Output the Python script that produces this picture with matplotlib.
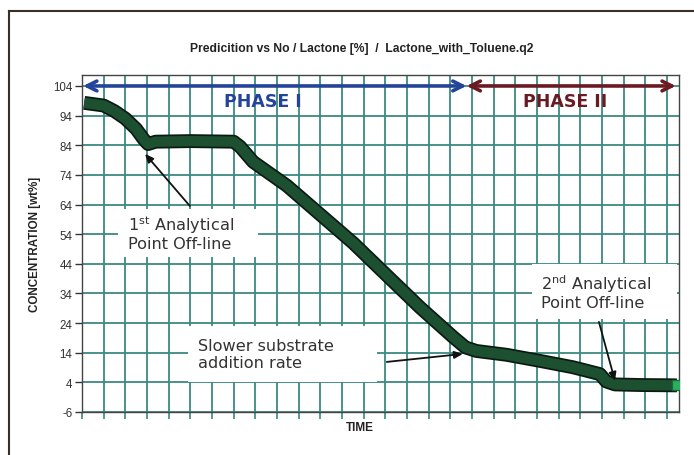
import matplotlib
matplotlib.use("Agg")
import matplotlib.pyplot as plt
import matplotlib.patheffects as pe
from matplotlib.patches import Rectangle
from matplotlib.lines import Line2D

# ---- data ----
time = [0.1, 1.0, 1.5, 2.0, 2.5, 2.85, 3.05, 3.4, 5.0, 7.0, 7.3, 7.9, 9.45,
        12.52, 15.6, 17.13, 17.7, 18.2, 19.6, 21.1, 22.66, 23.9, 24.2, 24.6,
        25.8, 27.3, 27.46]
conc = [98.3, 97.4, 95.5, 93.0, 89.5, 86.0, 84.4, 85.2, 85.4, 85.2, 83.5, 78.4,
        70.4, 51.0, 29.3, 19.3, 15.8, 14.6, 13.3, 11.3, 9.1, 6.8, 4.3, 3.3,
        3.1, 3.0, 3.0]
y_ticks = [-6, 4, 14, 24, 34, 44, 54, 64, 74, 84, 94, 104]
n_xgrid = 28

title = "Predicition vs No / Lactone [%]  /  Lactone_with_Toluene.q2"
ylabel = "CONCENTRATION [wt%]"
xlabel = "TIME"

W, H = 694, 456
fig = plt.figure(figsize=(W / 100, H / 100), dpi=100)
fig.patch.set_facecolor("white")

# outer frame (left and top)
fig.add_artist(Line2D([8.5 / W, 8.5 / W], [0, 1 - 11.5 / H], transform=fig.transFigure,
                      color="#3b2e25", lw=1.5))
fig.add_artist(Line2D([8.5 / W, 1], [1 - 11.5 / H, 1 - 11.5 / H], transform=fig.transFigure,
                      color="#3b2e25", lw=1.5))

left, right, top, bottom = 82, 679.3, 76, 413
ax = fig.add_axes([left / W, 1 - bottom / H, (right - left) / W, (bottom - top) / H])
ax.set_xlim(0, 27.57)
ax.set_ylim(-6, 107.7)

ax.set_xticks(range(n_xgrid))
ax.set_xticklabels([])
ax.set_yticks(y_ticks)
ax.set_yticklabels([str(v) for v in y_ticks], fontsize=8.3, color="#333333",
                   family="Liberation Sans")
ax.grid(True, color="#3a8a80", lw=1.3)
ax.set_axisbelow(True)
ax.tick_params(axis="x", direction="out", length=5, color="#3a8a80", width=1.2)
ax.tick_params(axis="y", direction="out", length=5, color="#333333", width=1.0, pad=2)
for s in ax.spines.values():
    s.set_color("#444444")
    s.set_linewidth(1.0)

# white boxes behind annotations (hide grid)
boxes = [(1.66, 46.3, 8.12 - 1.66, 62.5 - 46.3),
         (4.89, 4.1, 13.61 - 4.89, 23.0 - 4.1),
         (20.77, 25.4, 27.46 - 20.77, 43.9 - 25.4)]
for (bx, by, bw, bh) in boxes:
    ax.add_patch(Rectangle((bx, by), bw, bh, facecolor="white", edgecolor="none", zorder=2))

# curve
ax.plot(time, conc, color="#1c5030", lw=7.5, solid_capstyle="butt",
        solid_joinstyle="round", zorder=4,
        path_effects=[pe.Stroke(linewidth=10, foreground="#0b1a10"), pe.Normal()])
ax.plot(time[-1:], conc[-1:], marker="s", ms=7, color="#2bb060", mec="#1a6a3a",
        lw=0, zorder=5)

# phase arrows
ax.annotate("", xy=(0.05, 104), xytext=(17.75, 104),
            arrowprops=dict(arrowstyle="<->,head_length=0.7,head_width=0.35",
                            color="#24449a", lw=2.6, shrinkA=0, shrinkB=0), zorder=6)
ax.annotate("", xy=(17.75, 104), xytext=(27.41, 104),
            arrowprops=dict(arrowstyle="<->,head_length=0.7,head_width=0.35",
                            color="#6b1a24", lw=2.6, shrinkA=0, shrinkB=0), zorder=6)
ax.text(8.35, 98.9, "PHASE I", ha="center", va="center", fontsize=12.5,
        fontweight="bold", color="#24449a", family="DejaVu Sans", zorder=6)
ax.text(22.29, 98.9, "PHASE II", ha="center", va="center", fontsize=12.5,
        fontweight="bold", color="#6b1a24", family="DejaVu Sans", zorder=6)

# annotations
tc = "#333333"
fs = 11.6
ax.text(2.12, 54.7, "1$^{\\mathrm{st}}$ Analytical\nPoint Off-line", ha="left", va="center",
        fontsize=fs, color=tc, linespacing=1.1, zorder=6)
ax.text(5.35, 13.6, "Slower substrate\naddition rate", ha="left", va="center",
        fontsize=fs, color=tc, linespacing=1.1, zorder=6)
ax.text(21.2, 34.8, "2$^{\\mathrm{nd}}$ Analytical\nPoint Off-line", ha="left", va="center",
        fontsize=fs, color=tc, linespacing=1.1, zorder=6)

arr = dict(arrowstyle="-|>,head_length=0.5,head_width=0.22", color="#111111", lw=1.3,
           shrinkA=0, shrinkB=0)
ax.annotate("", xy=(2.91, 81.1), xytext=(4.98, 63.5), arrowprops=arr, zorder=7)
ax.annotate("", xy=(17.58, 13.6), xytext=(14.07, 10.9), arrowprops=arr, zorder=7)
ax.annotate("", xy=(24.6, 4.5), xytext=(23.86, 24.4), arrowprops=arr, zorder=7)

# titles / labels
fig.text(362 / W, 1 - 49 / H, title, ha="center", va="center", fontsize=8.7,
         fontweight="bold", color="#222222", family="Liberation Sans")
fig.text(35 / W, 1 - 244.5 / H, ylabel, ha="center", va="center", rotation=90,
         fontsize=8.4, fontweight="bold", color="#222222", family="Liberation Sans")
fig.text(360 / W, 1 - 428 / H, xlabel, ha="center", va="center", fontsize=8.5,
         fontweight="bold", color="#222222", family="Liberation Sans")

fig.savefig("out.png", dpi=100)
